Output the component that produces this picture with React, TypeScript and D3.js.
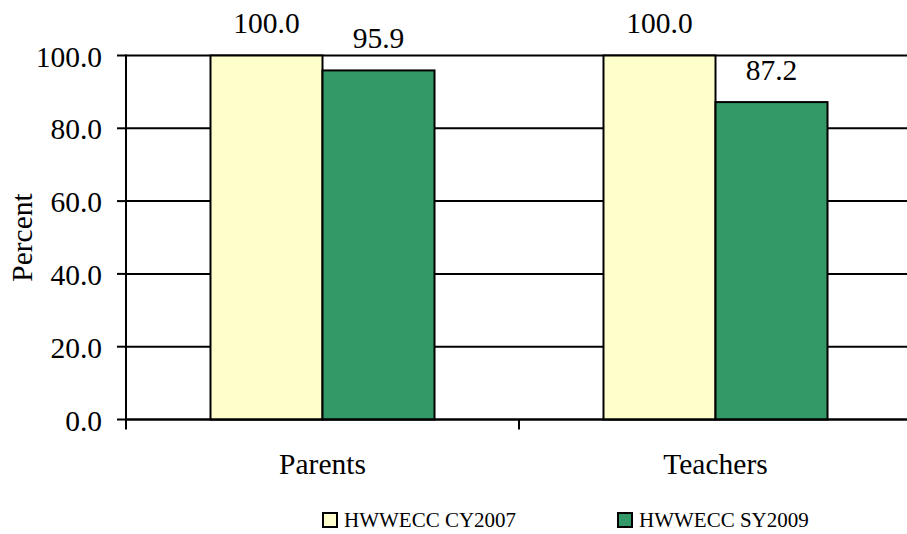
import React from "react";
import * as d3 from "d3";

const categories = ["Parents", "Teachers"];
const seriesNames = ["HWWECC CY2007", "HWWECC SY2009"];
const cy2007 = [100.0, 100.0];
const sy2009 = [95.9, 87.2];
const yTicks = [0, 20, 40, 60, 80, 100];
const colors = ["#FFFFCC", "#339966"];

const W = 907;
const H = 534;
const FONT = "Liberation Serif, Times New Roman, Times, serif";
const FS = 29.5;

export default function App() {
  const left = 126;
  const right = 912;
  const top = 55.5;
  const bottom = 419.5;

  const y = d3.scaleLinear().domain([0, 100]).range([bottom, top]);
  const x0 = d3.scaleBand<string>().domain(categories).range([left, right]);
  const groupW = x0.bandwidth() * 0.57;
  const x1 = d3.scaleBand<string>().domain(seriesNames).range([0, groupW]);
  const values = [cy2007, sy2009];
  const ts = { fontFamily: FONT };

  return (
    <svg
      width={W}
      height={H}
      style={{ position: "absolute", left: 0, top: 0, background: "#fff", fontFamily: FONT }}
    >
      {yTicks.map((t) => (
        <line key={"g" + t} x1={left} x2={W} y1={y(t)} y2={y(t)} stroke="#000" strokeWidth={2} />
      ))}
      {yTicks.map((t) => (
        <g key={"t" + t}>
          <line x1={left - 9} x2={left} y1={y(t)} y2={y(t)} stroke="#000" strokeWidth={2} />
          <text x={102} y={y(t) + 11} textAnchor="end" fontSize={FS} style={ts}>
            {t.toFixed(1)}
          </text>
        </g>
      ))}
      {categories.map((c, ci) => {
        const gx = x0(c)! + (x0.bandwidth() - groupW) / 2;
        return (
          <g key={c}>
            {seriesNames.map((s, si) => {
              const v = values[si][ci];
              const bx = gx + x1(s)!;
              return (
                <g key={s}>
                  <rect
                    x={bx}
                    y={y(v)}
                    width={x1.bandwidth()}
                    height={y(0) - y(v)}
                    fill={colors[si]}
                    stroke="#000"
                    strokeWidth={2}
                  />
                  <text x={bx + x1.bandwidth() / 2} y={y(v) - 22.5} textAnchor="middle" fontSize={FS} style={ts}>
                    {v.toFixed(1)}
                  </text>
                </g>
              );
            })}
          </g>
        );
      })}
      <line x1={left} x2={left} y1={top - 1} y2={bottom + 10} stroke="#000" strokeWidth={2} />
      <line x1={left} x2={W} y1={bottom} y2={bottom} stroke="#000" strokeWidth={2} />
      {categories.slice(1).map((c) => (
        <line key={"xt" + c} x1={x0(c)!} x2={x0(c)!} y1={bottom} y2={bottom + 10} stroke="#000" strokeWidth={2} />
      ))}
      {categories.map((c) => (
        <text key={"xl" + c} x={x0(c)! + x0.bandwidth() / 2} y={474} textAnchor="middle" fontSize={FS} style={ts}>
          {c}
        </text>
      ))}
      <text transform={`translate(32, 237.5) rotate(-90)`} textAnchor="middle" fontSize={FS} style={ts}>
        Percent
      </text>
      {seriesNames.map((s, i) => {
        const lx = [323, 618][i];
        return (
          <g key={"lg" + s}>
            <rect x={lx} y={513} width={14} height={14} fill={colors[i]} stroke="#000" strokeWidth={2} />
            <text x={lx + 21} y={527} fontSize={21} style={ts}>
              {s}
            </text>
          </g>
        );
      })}
    </svg>
  );
}
